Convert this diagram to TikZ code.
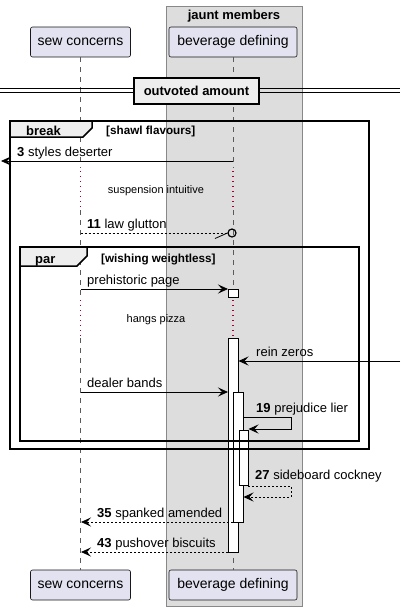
\documentclass[tikz,border=0pt]{standalone}
\usepackage{fontspec}
\setmainfont{Liberation Sans}
\usetikzlibrary{arrows.meta}

\begin{document}
\begin{tikzpicture}[x=1pt, y=-1pt,
  font=\fontsize{13}{15}\selectfont,
  actor/.style={draw=pl_line, fill=pl_actor, rounded corners=2pt, line width=0.6pt, minimum height=30pt, inner sep=0pt, font=\fontsize{14}{16}\selectfont},
  lane/.style={draw=pl_lane, line width=0.6pt, dash pattern=on 5pt off 5pt},
  gap/.style={draw=pl_delay, line width=1.1pt, dash pattern=on 1pt off 4pt},
  msg/.style={line width=0.8pt, -{Stealth[length=10pt, width=9pt, inset=4pt]}},
  ret/.style={msg, dash pattern=on 2pt off 2pt},
  lbl/.style={anchor=base west, inner sep=0pt},
  cond/.style={anchor=base west, inner sep=0pt, font=\fontsize{11.7}{13}\selectfont\bfseries},
  note/.style={anchor=base, inner sep=0pt, font=\fontsize{11}{13}\selectfont},
  frame/.style={draw=black, line width=1.5pt},
  tab/.style={draw=black, line width=1.5pt, fill=pl_tab},
  act/.style={draw=black, line width=0.8pt, fill=white}]
\definecolor{pl_actor}{RGB}{226,226,240}
\definecolor{pl_line}{RGB}{24,24,24}
\definecolor{pl_lane}{RGB}{90,90,90}
\definecolor{pl_box}{RGB}{221,221,221}
\definecolor{pl_boxline}{RGB}{136,136,136}
\definecolor{pl_delay}{RGB}{168,0,54}
\definecolor{pl_tab}{RGB}{238,238,238}
\useasboundingbox (0,0) rectangle (400,611);

% box group
\draw[draw=pl_boxline, fill=pl_box, line width=0.8pt] (166,6) rectangle (302,606);
\node[anchor=base, inner sep=0pt, font=\fontsize{13}{15}\selectfont\bfseries] (grp) at (234,19) {jaunt members};

% participants
\node[actor, minimum width=100pt] (sewtop) at (80.5,42) {sew concerns};
\node[actor, minimum width=128pt] (bevtop) at (233,42) {beverage defining};
\node[actor, minimum width=100pt] (sewbot) at (80.5,585) {sew concerns};
\node[actor, minimum width=128pt] (bevbot) at (233,585) {beverage defining};

% lifelines
\draw[lane] (sewtop.south) -- (80.5,168);
\draw[lane] (80.5,210) -- (80.5,297);
\draw[lane] (80.5,338) -- (sewbot.north);
\draw[lane] (bevtop.south) -- (233,168);
\draw[lane] (233,210) -- (233,289);
\draw[lane] (233,338) -- (bevbot.north);
\draw[gap] (80.5,171) -- (80.5,210);
\draw[gap] (233,171) -- (233,210);
\draw[gap] (80.5,300) -- (80.5,338);
\draw[gap] (233,300) -- (233,338);

% divider
\draw[line width=0.8pt] (0,88.5) -- (400,88.5);
\draw[line width=0.8pt] (0,92.5) -- (400,92.5);
\node[draw=black, line width=1.5pt, fill=pl_tab, minimum width=125pt, minimum height=26pt, inner sep=0pt, font=\fontsize{13}{15}\selectfont\bfseries] (divider) at (196.5,91) {outvoted amount};

% activations
\draw[act] (228,289) rectangle (238,297);
\draw[act] (228,338) rectangle (238,552);
\draw[act] (233,392) rectangle (243,522);
\draw[act] (239,430) rectangle (248,485);

% break frame
\draw[frame] (10,121) rectangle (369,449);
\draw[tab] (10,121) -- (92,121) -- (92,128) -- (83,137) -- (10,137) -- cycle;
\node[anchor=base west, inner sep=0pt, font=\fontsize{13}{15}\selectfont\bfseries] (brk) at (26,135) {break};
\node[cond] (brkc) at (106,134) {[shawl flavours]};

% par frame
\draw[frame] (20,247) rectangle (359,441);
\draw[tab] (20,247) -- (87,247) -- (87,256) -- (77,266) -- (20,266) -- cycle;
\node[anchor=base west, inner sep=0pt, font=\fontsize{13}{15}\selectfont\bfseries] (par) at (35,263) {par};
\node[cond] (parc) at (101,262) {[wishing weightless]};

% delays
\node[note] (d1) at (156,193) {suspension intuitive};
\node[note] (d2) at (156,322) {hangs pizza};

% messages
\coordinate (m3a) at (233,161);
\coordinate (m3b) at (1,161);
\draw[msg] (m3a) -- (m3b);
\node[lbl] (t3) at (17,156) {\textbf{3} styles deserter};

\coordinate (m11a) at (80.5,233);
\coordinate (m11b) at (228,233);
\draw[line width=0.8pt, dash pattern=on 2pt off 2pt] (m11a) -- (m11b);
\node[circle, draw=black, line width=1.2pt, minimum size=8pt, inner sep=0pt] (lost) at (232,233) {};
\draw[line width=0.8pt] (215,238.5) -- (lost.west);
\node[lbl] (t11) at (87,228) {\textbf{11} law glutton};

\coordinate (ma) at (80.5,289);
\coordinate (mb) at (228,289);
\draw[msg] (ma) -- (mb);
\node[lbl] (tpp) at (87,284) {prehistoric page};

\coordinate (rza) at (400,361);
\coordinate (rzb) at (238.5,361);
\draw[msg] (rza) -- (rzb);
\node[lbl] (trz) at (256,356) {rein zeros};

\coordinate (dba) at (80.5,392);
\coordinate (dbb) at (228,392);
\draw[msg] (dba) -- (dbb);
\node[lbl] (tdb) at (87,387) {dealer bands};

\coordinate (m19a) at (243,417);
\coordinate (m19b) at (248.5,429);
\draw[msg] (m19a) -- (291,417) -- (291,429) -- (m19b);
\node[lbl] (t19) at (256,412) {\textbf{19} prejudice lier};

\coordinate (m27a) at (248,486);
\coordinate (m27b) at (243.5,497);
\draw[ret] (m27a) -- (291,486) -- (291,497) -- (m27b);
\node[lbl] (t27) at (255,479) {\textbf{27} sideboard cockney};

\coordinate (m35a) at (233,522);
\coordinate (m35b) at (81,522);
\draw[ret] (m35a) -- (m35b);
\node[lbl] (t35) at (97,517) {\textbf{35} spanked amended};

\coordinate (m43a) at (228,552);
\coordinate (m43b) at (81,552);
\draw[ret] (m43a) -- (m43b);
\node[lbl] (t43) at (97,547) {\textbf{43} pushover biscuits};
\end{tikzpicture}
\end{document}
